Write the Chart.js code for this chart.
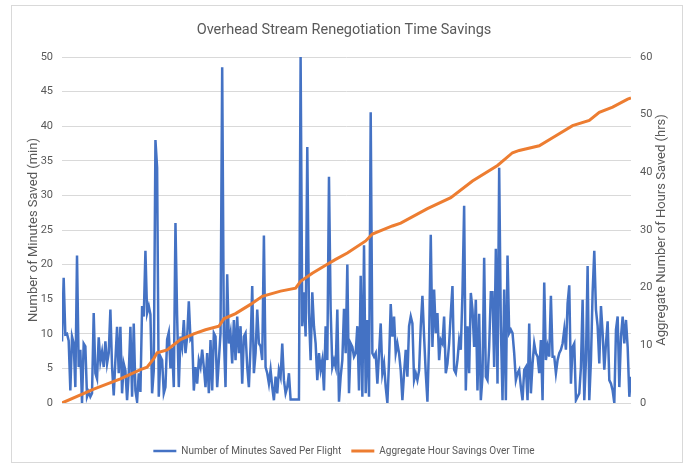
<!DOCTYPE html>
<html>
<head>
<meta charset="utf-8">
<script src="https://cdn.jsdelivr.net/npm/chart.js@4.4.1/dist/chart.umd.min.js"></script>
<style>
  html, body { margin: 0; padding: 0; background: #fff; }
  #wrap { position: relative; width: 688px; height: 466px; }
</style>
</head>
<body>
<div id="wrap"><canvas id="savingsChart"></canvas></div>
<script>
// minutes saved on each flight, read left to right off the chart
const minutesSaved = [
  8.9, 18.1, 9.9, 10, 9, 1.8, 9.6, 8.6, 2.3, 21.3,
  5.2, 7.7, 0, 8.6, 8.2, 0.9, 1.6, 0.9, 1.4, 13,
  4.3, 3.5, 9.5, 6, 7.4, 5.2, 8.9, 5.7, 7.2, 13.5,
  5.2, 1.1, 6.2, 11, 4.3, 11, 1.4, 5.7, 4.7, 0.4,
  4.3, 11, 0.9, 11.5, 1.8, 0.2, 4.3, 1.6, 14, 12.5,
  22, 13, 14, 12.8, 1.4, 4.7, 38, 34, 0.9, 6.7,
  6.2, 1.4, 2.3, 9.2, 10.2, 5, 8, 2.3, 26, 12.5,
  2.3, 9.6, 8.1, 12, 7.2, 9.6, 14.7, 9.2, 9.6, 1.8,
  5.2, 2.8, 6.2, 5.2, 7.7,
  5.2, 2.3, 7.2, 1.4, 9.1, 1.8, 10.1, 9.6, 2.3, 6.2,
  10.1, 48.5, 9.6, 2.3, 18.6, 8.6, 10.1, 5.7, 12, 6.2,
  12.5, 7.2, 11.1, 2.8, 9.6, 10.1, 5.2, 2.3, 8.2, 16.9,
  4.3, 7.2, 13.5, 8.6, 8.2, 6.2, 24.2, 5.2, 4.3, 2.8,
  4.8, 2.3, 0.4, 3.8, 1.4, 4.8, 3.8, 8.6, 3.3, 1.4,
  2.3, 4.3, 0.5, 0.5, 0.5, 0.5, 0.5, 0.5, 50, 11.1,
  16, 9.6, 37, 13, 6.2, 16, 11.1, 8.6, 3.3, 7.2,
  4.8, 6.2, 1.8, 11.1, 6.2, 32.7, 13.5, 5.2, 6.2, 5.2,
  13.5, 0.2, 3.8, 6.2,
  13.6, 7.2, 20, 1.4, 8.6, 8.1, 6.7, 7.2, 11.1, 1.8,
  18.4, 0.9, 22.8, 1.4, 12, 0.9, 42, 7.2, 6.7, 7.2,
  2.8, 7.2, 11.5, 4.3, 5.7, 2.3, 0, 6.2, 14.3, 9.6,
  12.5, 7.2, 8.6, 7.2, 4.7, 0.4, 4.3, 7.7, 3.8, 11.1,
  12.5, 11.5, 3.3, 4.3, 3.3, 4.7, 11.1, 15.5, 9.6, 4.3,
  0.2, 9.1, 24.3, 8.1, 16.4, 10.1, 13, 6.2, 9.1, 8.6,
  12.5, 4.3, 5.7, 8.6, 13, 16.9, 4.8, 4.3, 6.2, 9.1,
  7.7, 15.9, 28.5, 1.8, 11.1, 4.3, 15.9, 13.5, 8.1, 14.9,
  1.8, 12.9, 0.4, 3.8, 21, 3.8, 3.3, 8.1, 16,
  16, 5.2, 22.3, 2.8, 34, 11.1, 0.4, 16.4, 0.4, 21.3,
  10.1, 10.6, 10.1, 7.2, 3.3, 4.3, 4.8, 2.3, 0.4, 4.8,
  5.2, 0.4, 11.5, 1.4, 5.7, 8.6, 7.2, 6.7, 4.3, 9.1,
  0.4, 17.4, 6.2, 8.1, 6.7, 15.5, 6.7, 6.7, 4.3, 6.2,
  7.2, 7.7, 8.6, 10.6, 7.7, 14.4, 17, 2.8, 8.1, 8.6,
  0.4, 0.9, 1.4, 5.2, 14.9, 0.4, 6.2, 19.8, 0.4, 6.2,
  16, 22, 13.5, 11.1, 5.7, 14, 10.1, 4.8, 8.6, 11.8,
  3.3, 2.8, 1.8, 0, 10.6, 12.5, 2.3, 9.6, 12.5, 8.6,
  12, 8.1, 0.9, 3.8
];

// aggregate hours, read at these flight numbers
const hourFlight = [0, 19, 35, 47, 51, 55, 57, 63, 71, 79, 86, 94, 97, 104, 113, 120, 131, 140, 143, 150,
  158, 164, 171, 182, 186, 198, 203, 219, 233, 246, 261, 270, 274, 286, 294, 306, 316, 322, 330, 339, 341];
const hourTotals = [0, 2.4, 4.2, 5.8, 6.2, 7.7, 8.7, 9.2, 11.0, 12.0, 12.7, 13.3, 14.6, 15.5, 17.1, 18.5, 19.4, 19.9, 21.1, 22.5,
  23.9, 24.9, 26.0, 28.1, 29.3, 30.7, 31.2, 33.7, 35.6, 38.5, 41.2, 43.4, 43.8, 44.6, 46.0, 48.1, 49.0, 50.4, 51.3, 52.7, 52.9];

const minuteTicks = [0, 50, 5];
const hourTicks = [0, 60, 10];

const FONT = "Roboto, 'Liberation Sans', sans-serif";
const GREY = "#595959";

// white card with thin grey frame, plus the right axis title (reads bottom-to-top)
const frame = {
  id: "frame",
  beforeDraw(chart) {
    const c = chart.ctx;
    c.save();
    c.fillStyle = "#fff";
    c.fillRect(0, 0, chart.width, chart.height);
    c.strokeStyle = "#d9d9d9";
    c.lineWidth = 1;
    c.strokeRect(11.5, 5.5, 671, 457);
    c.restore();
  },
  afterDraw(chart) {
    const c = chart.ctx;
    const a = chart.chartArea;
    c.save();
    c.translate(662, (a.top + a.bottom) / 2);
    c.rotate(-Math.PI / 2);
    c.fillStyle = GREY;
    c.font = "13px " + FONT;
    c.textAlign = "center";
    c.textBaseline = "middle";
    c.fillText("Aggregate Number of Hours Saved (hrs)", 0, 0);
    c.restore();
  },
};

const ctx = document.getElementById("savingsChart").getContext("2d");

new Chart(ctx, {
  type: "line",
  data: {
    datasets: [
      {
        label: "Number of Minutes Saved Per Flight",
        data: minutesSaved.map((v, i) => ({ x: i, y: v })),
        borderColor: "#4472C4",
        backgroundColor: "#4472C4",
        borderWidth: 2.5,
        pointRadius: 0,
        yAxisID: "y",
        order: 1,
      },
      {
        label: "Aggregate Hour Savings Over Time",
        data: hourFlight.map((f, i) => ({ x: f, y: hourTotals[i] })),
        borderColor: "#ED7D31",
        backgroundColor: "#ED7D31",
        borderWidth: 3,
        pointRadius: 0,
        yAxisID: "y2",
        order: 0,
      },
    ],
  },
  options: {
    responsive: true,
    maintainAspectRatio: false,
    animation: false,
    layout: { padding: { left: 14, right: 14, top: 0, bottom: 0 } },
    scales: {
      x: {
        type: "linear",
        min: 0,
        max: minutesSaved.length - 1,
        ticks: { display: false },
        grid: { display: false },
        border: { display: false },
        afterFit: (s) => { s.height = 33; },
      },
      y: {
        position: "left",
        min: minuteTicks[0],
        max: minuteTicks[1],
        ticks: { stepSize: minuteTicks[2], color: GREY, padding: 9, font: { family: FONT, size: 11 } },
        grid: { color: "#d9d9d9", drawTicks: false },
        border: { display: false },
        title: {
          display: true,
          text: "Number of Minutes Saved (min)",
          color: GREY,
          padding: { top: 12, bottom: 0 },
          font: { family: FONT, size: 13 },
        },
        afterFit: (s) => { s.width = 48; },
      },
      y2: {
        position: "right",
        min: hourTicks[0],
        max: hourTicks[1],
        ticks: { stepSize: hourTicks[2], color: GREY, padding: 9, font: { family: FONT, size: 11 } },
        grid: { drawOnChartArea: false, drawTicks: false },
        border: { display: false },
        afterFit: (s) => { s.width = 43; },
      },
    },
    plugins: {
      title: {
        display: true,
        text: "Overhead Stream Renegotiation Time Savings",
        color: GREY,
        font: { family: FONT, size: 14.5, weight: "normal" },
        padding: { top: 22, bottom: 17.6 },
      },
      legend: {
        position: "bottom",
        labels: {
          usePointStyle: true,
          pointStyle: "line",
          pointStyleWidth: 23,
          color: GREY,
          padding: 10,
          font: { family: FONT, size: 10 },
          sort: (a, b) => a.datasetIndex - b.datasetIndex,
        },
      },
      tooltip: { enabled: false },
    },
  },
  plugins: [frame],
});
</script>
</body>
</html>
